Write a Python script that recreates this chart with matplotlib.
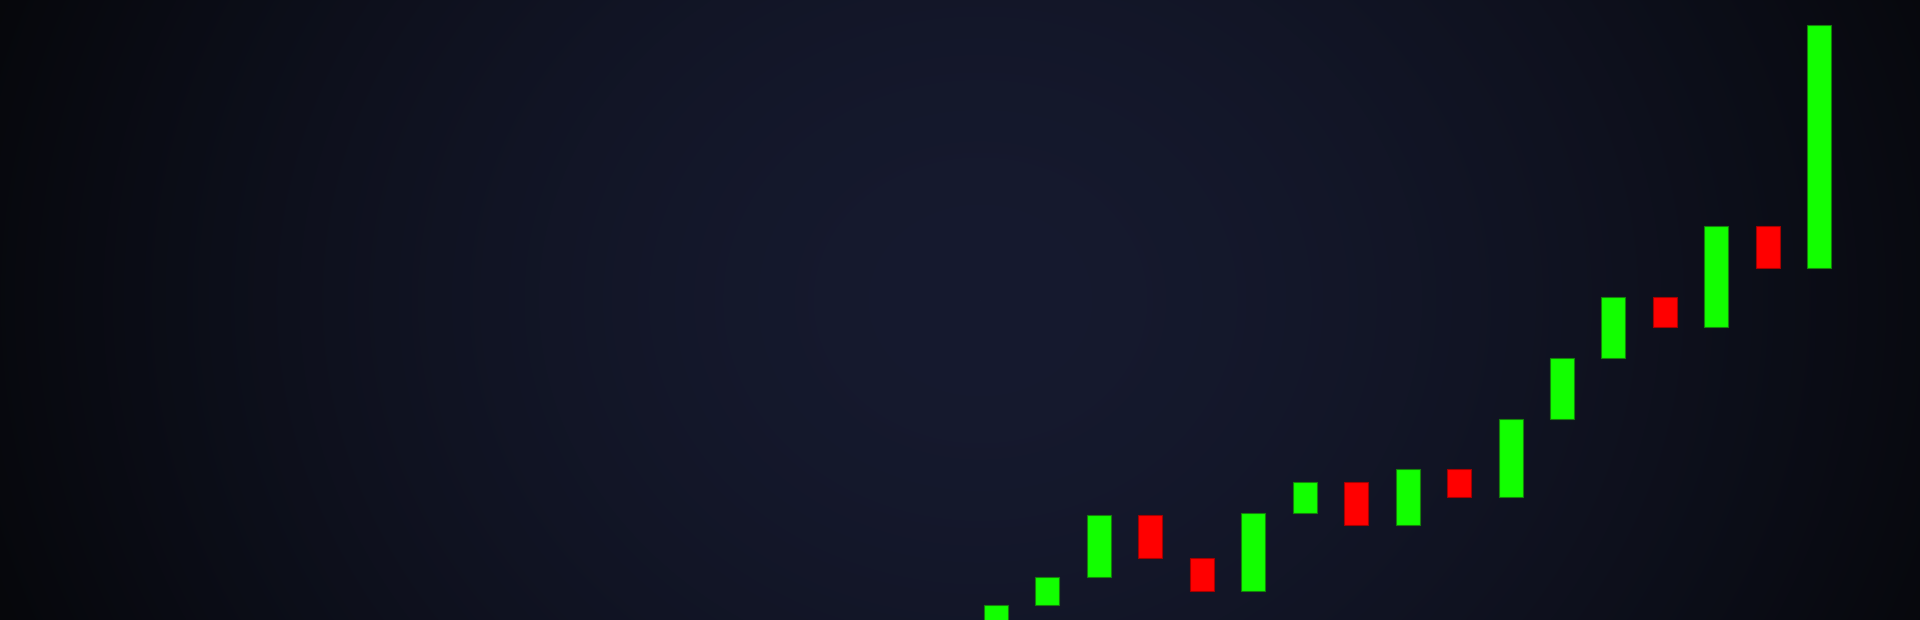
import numpy as np
import matplotlib
matplotlib.use("Agg")
import matplotlib.pyplot as plt
from matplotlib.colors import to_rgb

# ---- data (candle open/close levels, arbitrary price units) ----
candle_index = list(range(17))
opens = [-15, 14.7, 43.3, 105, 62, 29, 107, 137.7, 95, 151.3, 123, 201.3, 262.3, 323.3, 293, 394.3, 352]
closes = [14.7, 43.3, 105, 62, 29, 107, 137.7, 95, 151.3, 123, 201.3, 262.3, 323.3, 293, 394.3, 352, 595.3]

UP = "#12ff00"
DOWN = "#ff0000"
UP_EDGE = "#14820a"
DOWN_EDGE = "#a50000"

W, H = 1920, 620
fig = plt.figure(figsize=(W / 100, H / 100), dpi=100)

# ---- background: elliptical radial gradient ----
bg = fig.add_axes([0, 0, 1, 1])
bg.set_axis_off()
yy, xx = np.mgrid[0:H, 0:W]
cx, cy = 980.0, 300.0
r = np.sqrt(((xx - cx) / 1050.0) ** 2 + ((yy - cy) / 900.0) ** 2)
t = np.clip(r, 0, 1) ** 1.6
c0 = np.array(to_rgb("#161a2f"))
c1 = np.array(to_rgb("#06070b"))
img = c0[None, None, :] * (1 - t[..., None]) + c1[None, None, :] * t[..., None]
bg.imshow(img, extent=[0, W, H, 0], aspect="auto", interpolation="bilinear")
bg.set_xlim(0, W)
bg.set_ylim(H, 0)

# ---- candles ----
ax = fig.add_axes([0, 0, 1, 1])
ax.set_facecolor("none")
ax.set_axis_off()
step = 51.45
x0_px = 996.0
ax.set_xlim(-x0_px / step, (W - x0_px) / step)
ax.set_ylim(0, 620)

o = np.array(opens)
c = np.array(closes)
up = c >= o
x = np.array(candle_index)
ax.bar(x[up], (c - o)[up], bottom=o[up], width=24 / step,
       color=UP, edgecolor=UP_EDGE, linewidth=0.8)
ax.bar(x[~up], (c - o)[~up], bottom=o[~up], width=24 / step,
       color=DOWN, edgecolor=DOWN_EDGE, linewidth=0.8)

fig.savefig("out.png", dpi=100)
